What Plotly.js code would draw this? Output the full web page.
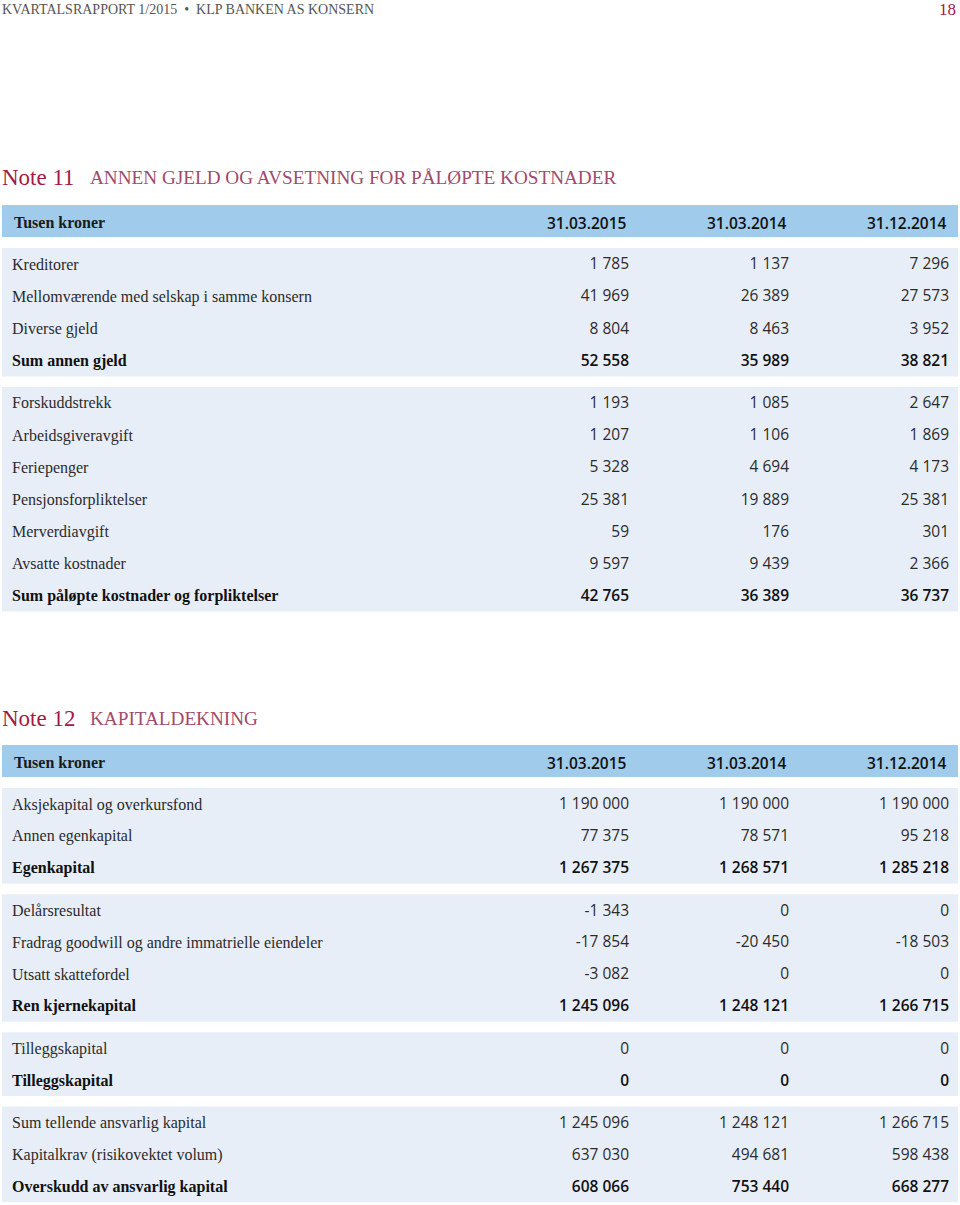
<!DOCTYPE html>
<html><head><meta charset="utf-8">
<script src="https://cdn.plot.ly/plotly-3.0.1.min.js"></script>
<style>html,body{margin:0;padding:0;background:#fff}</style>
</head><body><div id="chart" style="width:960px;height:1205px"></div>
<script>
// ---------- DATA ----------
const columns = ["31.03.2015", "31.03.2014", "31.12.2014"];
const headerLabel = "Tusen kroner";

const note11Title = ["Note 11", "ANNEN GJELD OG AVSETNING FOR PÅLØPTE KOSTNADER"];
const note11BlockA = ["Kreditorer", "Mellomværende med selskap i samme konsern", "Diverse gjeld", "Sum annen gjeld"];
const note11BlockAValues = [[1785, 1137, 7296], [41969, 26389, 27573], [8804, 8463, 3952], [52558, 35989, 38821]];
const note11BlockB = ["Forskuddstrekk", "Arbeidsgiveravgift", "Feriepenger", "Pensjonsforpliktelser", "Merverdiavgift", "Avsatte kostnader", "Sum påløpte kostnader og forpliktelser"];
const note11BlockBValues = [[1193, 1085, 2647], [1207, 1106, 1869], [5328, 4694, 4173], [25381, 19889, 25381], [59, 176, 301], [9597, 9439, 2366], [42765, 36389, 36737]];

const note12Title = ["Note 12", "KAPITALDEKNING"];
const note12BlockA = ["Aksjekapital og overkursfond", "Annen egenkapital", "Egenkapital"];
const note12BlockAValues = [[1190000, 1190000, 1190000], [77375, 78571, 95218], [1267375, 1268571, 1285218]];
const note12BlockB = ["Delårsresultat", "Fradrag goodwill og andre immatrielle eiendeler", "Utsatt skattefordel", "Ren kjernekapital"];
const note12BlockBValues = [[-1343, 0, 0], [-17854, -20450, -18503], [-3082, 0, 0], [1245096, 1248121, 1266715]];
const note12BlockC = ["Tilleggskapital", "Tilleggskapital"];
const note12BlockCValues = [[0, 0, 0], [0, 0, 0]];
const note12BlockD = ["Sum tellende ansvarlig kapital", "Kapitalkrav (risikovektet volum)", "Overskudd av ansvarlig kapital"];
const note12BlockDValues = [[1245096, 1248121, 1266715], [637030, 494681, 598438], [608066, 753440, 668277]];

// rows shown in bold
const boldRows = [[false,false,false,true],[false,false,false,false,false,false,true],
                  [false,false,true],[false,false,false,true],[false,true],[false,false,true]];

const pageHeader = "KVARTALSRAPPORT 1/2015  •  KLP BANKEN AS KONSERN";
const pageNumber = "18";

// ---------- LAYOUT ----------
const W = 960, H = 1205;
const colRight = [629, 789, 949];
const labelX = 12;
const pad = 16, gap = 10.5, textShift = 1.5;
const barFill = "#a0cbea", blockFill = "#e8eef8";
const serif = "Liberation Serif, serif";
const sans = "Open Sans, DejaVu Sans, sans-serif";

function fmt(v) {
  const neg = v < 0;
  let s = String(Math.abs(v));
  s = s.replace(/\B(?=(\d{3})+(?!\d))/g, " ");
  return (neg ? "-" : "") + s;
}

const sections = [
  {title: note11Title, titleY: 177, headerTop: 205, step: 32.1, blocks: [[note11BlockA, note11BlockAValues], [note11BlockB, note11BlockBValues]]},
  {title: note12Title, titleY: 718, headerTop: 745, step: 31.9, blocks: [[note12BlockA, note12BlockAValues], [note12BlockB, note12BlockBValues], [note12BlockC, note12BlockCValues], [note12BlockD, note12BlockDValues]]}
];

const shapes = [], annotations = [];
const mk = () => ({x: [], y: [], text: []});
const lab = [mk(), mk()];           // [normal, bold]
const nums = [mk(), mk()];
let bi = 0;

sections.forEach(sec => {
  annotations.push({xref: "x", yref: "y", x: 0, y: sec.titleY, xanchor: "left", yanchor: "middle", showarrow: false,
    text: sec.title[0], font: {family: serif, size: 23, color: "#a31a45"}});
  annotations.push({xref: "x", yref: "y", x: 88, y: sec.titleY, xanchor: "left", yanchor: "middle", showarrow: false,
    text: sec.title[1], font: {family: serif, size: 19.2, color: "#a04a6c"}});
  shapes.push({type: "rect", xref: "x", yref: "y", x0: 2, x1: 958, y0: sec.headerTop, y1: sec.headerTop + 32, fillcolor: barFill, line: {width: 0}, layer: "below"});
  const hy = sec.headerTop + 16 + textShift;
  annotations.push({xref: "x", yref: "y", x: labelX, y: hy, xanchor: "left", yanchor: "middle", showarrow: false,
    text: headerLabel, font: {family: serif, size: 16, color: "#1a1a1a", weight: "bold"}});
  columns.forEach((c, ci) => {
    annotations.push({xref: "x", yref: "y", x: colRight[ci], y: hy, xanchor: "right", yanchor: "middle", showarrow: false,
      text: c, font: {family: sans, size: 15.5, color: "#111111", weight: 600}});
  });
  let top = sec.headerTop + 43;
  sec.blocks.forEach(([labels, vals]) => {
    const bottom = top + sec.step * labels.length;
    shapes.push({type: "rect", xref: "x", yref: "y", x0: 2, x1: 958, y0: top, y1: bottom, fillcolor: blockFill, line: {width: 0}, layer: "below"});
    labels.forEach((l, ri) => {
      const y = top + pad + ri * sec.step + textShift;
      const k = boldRows[bi][ri] ? 1 : 0;
      lab[k].x.push(labelX); lab[k].y.push(y); lab[k].text.push(l);
      vals[ri].forEach((v, ci) => {
        nums[k].x.push(colRight[ci]); nums[k].y.push(y); nums[k].text.push(fmt(v));
      });
    });
    bi++;
    top = bottom + gap;
  });
});

annotations.push({xref: "x", yref: "y", x: 0, y: 9, xanchor: "left", yanchor: "middle", showarrow: false,
  text: pageHeader, font: {family: serif, size: 14, color: "#555555"}});
annotations.push({xref: "x", yref: "y", x: 958, y: 9, xanchor: "right", yanchor: "middle", showarrow: false,
  text: pageNumber, font: {family: serif, size: 17, color: "#a31a45"}});

const traces = [];
[0, 1].forEach(k => {
  traces.push({type: "scatter", mode: "text", x: lab[k].x, y: lab[k].y, text: lab[k].text, textposition: "middle right",
    textfont: {family: serif, size: 16, color: k ? "#111111" : "#2b2b2b", weight: k ? "bold" : "normal"},
    hoverinfo: "skip", cliponaxis: false, showlegend: false});
  traces.push({type: "scatter", mode: "text", x: nums[k].x, y: nums[k].y, text: nums[k].text, textposition: "middle left",
    textfont: {family: sans, size: 15.5, color: k ? "#111111" : "#2b2b2b", weight: k ? 600 : 400},
    hoverinfo: "skip", cliponaxis: false, showlegend: false});
});

Plotly.newPlot("chart", traces, {
  width: W, height: H, margin: {l: 0, r: 0, t: 0, b: 0},
  paper_bgcolor: "#fff", plot_bgcolor: "#fff",
  xaxis: {range: [0, W], visible: false, fixedrange: true},
  yaxis: {range: [H, 0], visible: false, fixedrange: true},
  shapes: shapes, annotations: annotations, showlegend: false
}, {displayModeBar: false, staticPlot: true});
</script></body></html>
